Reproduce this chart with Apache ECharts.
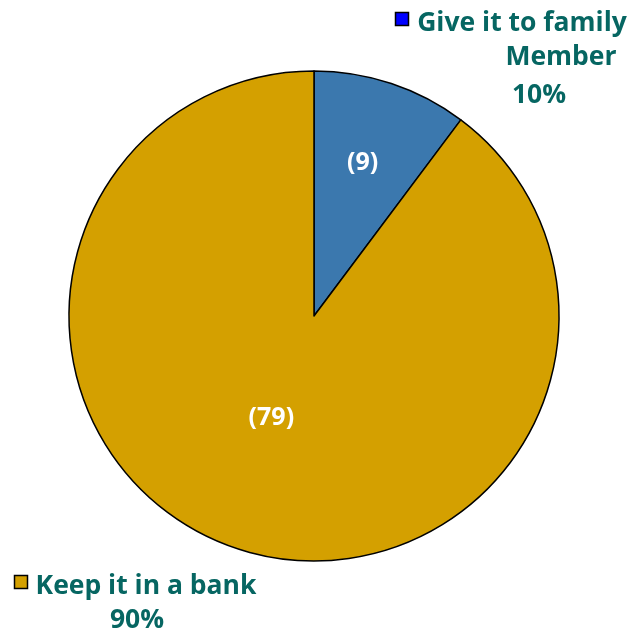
<!DOCTYPE html>
<html><head><meta charset="utf-8">
<script src="https://cdn.jsdelivr.net/npm/echarts@6/dist/echarts.min.js"></script>
<style>html,body{margin:0;padding:0;background:#fff}#c{width:631px;height:634px}</style>
</head><body><div id="c"></div>
<script>
const categories = ['Give it to family Member', 'Keep it in a bank'];
const values = [9, 79];
const sliceColors = ['#3b78ae', '#d4a000'];
const legendColors = ['#0000ff', '#d4a000'];
const labelLines = [['Give it to family', 'Member'], ['Keep it in a bank']];

const total = values.reduce((a, b) => a + b, 0);
const pct = values.map(v => Math.round(v / total * 100) + '%');
const txtColor = '#066662';
const font = 'bold 26.5px "Open Sans"';

const chart = echarts.init(document.getElementById('c'));
const labelShift = [[9, -34], [-3, -17]];
chart.setOption({
  animation: false,
  series: [{
    type: 'pie',
    center: [314, 316],
    radius: 245,
    startAngle: 90,
    clockwise: true,
    data: categories.map((n, i) => ({ name: n, value: values[i], itemStyle: { color: sliceColors[i] } })),
    itemStyle: { borderColor: '#000', borderWidth: 1.5 },
    label: {
      position: 'inside',
      formatter: p => '(' + p.value + ')',
      color: '#fff',
      fontFamily: 'Open Sans',
      fontWeight: 'bold',
      fontSize: 25
    },
    labelLayout: p => ({ dx: labelShift[p.dataIndex][0], dy: labelShift[p.dataIndex][1] }),
    emphasis: { disabled: true }
  }],
  graphic: [
    { type: 'rect', shape: { x: 395.5, y: 12.5, width: 13, height: 13 }, style: { fill: legendColors[0], stroke: '#000', lineWidth: 1.5 } },
    { type: 'text', x: 522, y: 23, style: { text: labelLines[0][0], font, fill: txtColor, textAlign: 'center', textVerticalAlign: 'middle' } },
    { type: 'text', x: 561, y: 57, style: { text: labelLines[0][1], font, fill: txtColor, textAlign: 'center', textVerticalAlign: 'middle' } },
    { type: 'text', x: 539, y: 95, style: { text: pct[0], font, fill: txtColor, textAlign: 'center', textVerticalAlign: 'middle' } },
    { type: 'rect', shape: { x: 14.5, y: 575.5, width: 13, height: 13 }, style: { fill: legendColors[1], stroke: '#000', lineWidth: 1.5 } },
    { type: 'text', x: 146, y: 586, style: { text: labelLines[1][0], font, fill: txtColor, textAlign: 'center', textVerticalAlign: 'middle' } },
    { type: 'text', x: 137, y: 620, style: { text: pct[1], font, fill: txtColor, textAlign: 'center', textVerticalAlign: 'middle' } }
  ]
});
</script></body></html>
